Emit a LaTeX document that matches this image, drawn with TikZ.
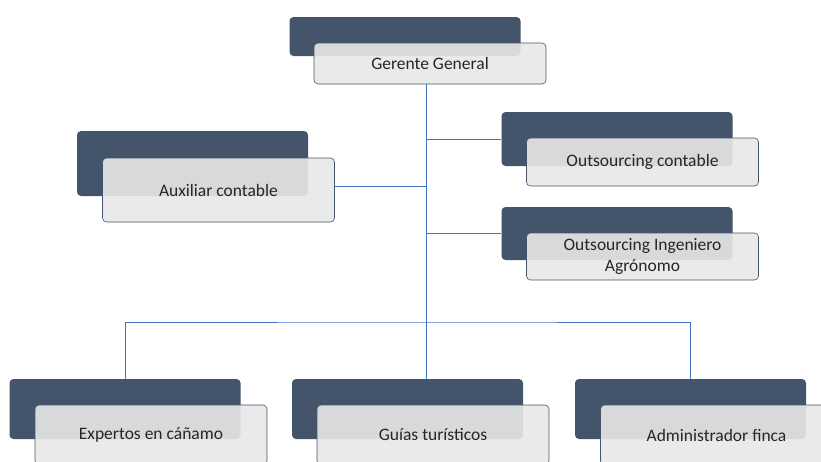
\documentclass[tikz,border=0pt]{standalone}
\usepackage{fontspec}
\setmainfont{Carlito}
\usepackage{tikz}

\definecolor{slate}{HTML}{44546A}
\definecolor{paper}{HTML}{E8E8E8}
\definecolor{wire}{HTML}{4472C4}
\definecolor{ink}{HTML}{262626}

\begin{document}
\begin{tikzpicture}[x=1pt,y=-1pt,
  back/.style={draw=none, fill=slate, rounded corners=4pt, minimum width=231pt, inner sep=0pt},
  front/.style={draw=slate, line width=0.6pt, fill=paper, fill opacity=0.9, text opacity=1,
    rounded corners=4pt, minimum width=232pt, inner sep=0pt, align=center,
    text=ink, font=\fontsize{17.5}{21}\selectfont},
  link/.style={draw=wire, line width=0.8pt}]
  \useasboundingbox (0,0) rectangle (821,461);

  % top
  \node[back, minimum height=39pt] (gerB) at (405,36.5) {};
  \node[front, minimum height=41pt] (ger) at (430,63.5) {Gerente General};

  % staff
  \node[back, minimum height=65pt] (auxB) at (192.5,163.5) {};
  \node[front, minimum height=64pt] (aux) at (218.5,190) {Auxiliar contable};

  \node[back, minimum height=54pt] (outB) at (617,139) {};
  \node[front, minimum height=48pt] (out) at (642.5,162) {Outsourcing contable};

  \node[back, minimum height=53pt] (ingB) at (617,233.5) {};
  \node[front, minimum height=47pt] (ing) at (642.5,256.5) {Outsourcing Ingeniero\\Agrónomo};

  % bottom row
  \node[back, minimum height=60pt] (expB) at (125,409) {};
  \node[front, minimum height=60pt] (exp) at (151,435) {Expertos en cáñamo};

  \node[back, minimum height=60pt] (guiB) at (407.5,409) {};
  \node[front, minimum height=60pt] (gui) at (433,435) {Guías turísticos};

  \node[back, minimum height=60pt] (admB) at (690.5,409) {};
  \node[front, minimum height=60pt] (adm) at (716.5,435) {Administrador finca};

  % lines
  \coordinate (bus) at (426,322);
  \coordinate (j1) at (426,186);
  \draw[link] (ger.south -| bus) -- (guiB.north -| bus);
  \draw[link] (expB.north) |- (bus) -| (admB.north);
  \draw[link] (j1) -- (j1 -| aux.east);
  \draw[link] (outB.west -| bus) -- (outB.west);
  \draw[link] (ingB.west -| bus) -- (ingB.west);
\end{tikzpicture}
\end{document}
